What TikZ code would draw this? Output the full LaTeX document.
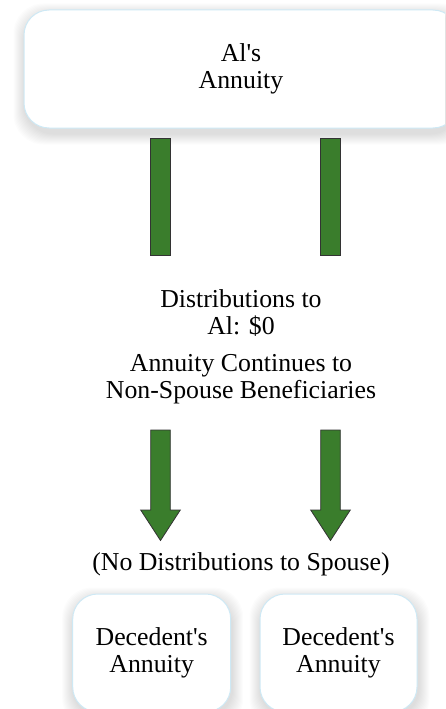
\documentclass[tikz,border=0pt]{standalone}
\usepackage{fontspec}
\setmainfont{Liberation Serif}
\usepackage{xcolor}
\usetikzlibrary{positioning, backgrounds}

\definecolor{flowgreen}{RGB}{58,125,44}
\definecolor{boxblue}{RGB}{206,233,245}

\begin{document}
\begin{tikzpicture}[
    x=1pt, y=-1pt,
    every node/.style={font=\fontsize{25.8}{27}\selectfont},
    account/.style={rectangle, draw=boxblue, line width=1pt, fill=white, rounded corners=25pt, minimum height=118pt, align=center},
    flowtext/.style={align=center, inner sep=0pt},
    bar/.style={draw=black!80, fill=flowgreen, line width=0.8pt},
    haze/.style={fill=black, opacity=0.01},
]
\useasboundingbox (0,0) rectangle (445,709);
\clip (0,0) rectangle (445,709);

% Accounts
\node[account, minimum width=434pt] (als) at (241,69) {Al\textquotesingle s\\Annuity};
\node[account, minimum width=158pt] (decL) at (151.7,653) {Decedent\textquotesingle s\\Annuity};
\node[account, minimum width=157pt] (decR) at (338.5,653) {Decedent\textquotesingle s\\Annuity};

% Texts
\node[flowtext] (dist) at (241,313) {Distributions to\\Al: \$0};
\node[flowtext] (cont) at (241,379) {Annuity Continues to\\Non-Spouse Beneficiaries};
\node[flowtext] (nodist) at (241,564) {(No Distributions to Spouse)};

% Bars from Al's annuity
\filldraw[bar] (150.7,138) rectangle (170.3,255);
\filldraw[bar] (320.7,138) rectangle (340.7,255);

% Arrows to the beneficiaries
\filldraw[bar] (150.7,430) -- (150.7,510) -- (140.7,510) -- (160.5,540.5) -- (180.3,510) -- (170.3,510) -- (170.3,430) -- cycle;
\filldraw[bar] (320.7,430) -- (320.7,510) -- (310.7,510) -- (330.5,540.5) -- (350.3,510) -- (340.3,510) -- (340.3,430) -- cycle;

% Soft shadows behind the accounts
\begin{scope}[on background layer]
\fill[white] (0,0) rectangle (445,709);
\foreach \b in {als,decL,decR}
  \foreach \s in {1,...,11}
    \fill[haze, rounded corners=30pt]
      ([shift={(-\s+1,-\s+5)}]\b.north west) rectangle ([shift={(\s+1,\s+5)}]\b.south east);
\end{scope}

\end{tikzpicture}
\end{document}
